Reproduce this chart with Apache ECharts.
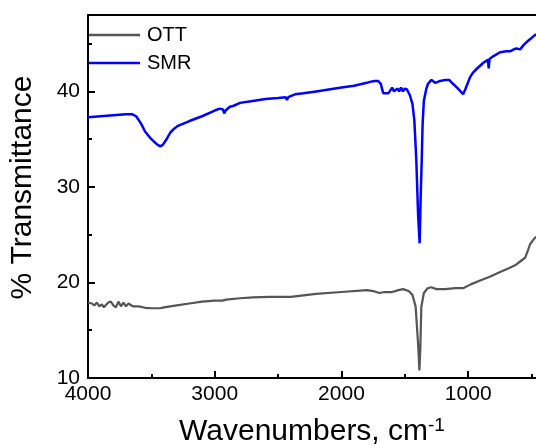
<!DOCTYPE html>
<html>
<head>
<meta charset="utf-8">
<script src="https://cdn.jsdelivr.net/npm/echarts@6/dist/echarts.min.js"></script>
<style>
html,body{margin:0;padding:0;background:#fff;}
#chart{width:536px;height:448px;}
</style>
</head>
<body>
<div id="chart"></div>
<script>
// Wavenumber (cm-1) and % transmittance
var smrX = [4000,3900,3800,3700,3650,3620,3580,3550,3500,3460,3430,3410,3380,3350,3320,3290,3200,3100,3000,2960,2935,2925,2915,2900,2880,2850,2800,2700,2600,2500,2440,2430,2420,2366,2300,2200,2100,2000,1900,1800,1775,1765,1740,1711,1690,1670,1656,1630,1616,1600,1585,1560,1545,1530,1515,1500,1483,1460,1440,1425,1410,1395,1383,1375,1366,1360,1350,1330,1317,1290,1277,1260,1240,1222,1180,1150,1120,1088,1060,1040,1020,985,960,930,880,845,838,832,800,748,700,669,640,620,590,560,527,500,465];
var smrY = [37.3,37.4,37.5,37.6,37.6,37.4,36.6,35.8,35.0,34.5,34.25,34.4,35.0,35.7,36.1,36.4,36.9,37.4,38.0,38.2,38.1,37.7,38.0,38.1,38.4,38.5,38.8,39.0,39.2,39.3,39.4,39.1,39.4,39.7,39.8,40.0,40.2,40.4,40.6,40.9,41.0,40.8,41.1,41.1,40.8,39.8,39.6,39.8,39.9,40.4,40.0,40.3,40.0,40.4,40.0,40.3,40.2,39.6,38.7,37.0,33.0,27.0,24.1,29.0,33.1,36.5,39.0,40.3,40.8,41.2,41.2,40.9,41.0,41.1,41.2,41.2,40.8,40.4,40.0,39.7,40.3,41.5,42.0,42.4,43.0,43.3,42.4,43.4,43.7,44.1,44.2,44.2,44.4,44.5,44.4,44.9,45.3,45.6,46.0];

var ottX = [4000,3985,3970,3950,3930,3910,3890,3875,3860,3840,3820,3800,3780,3760,3740,3720,3700,3680,3660,3640,3600,3550,3500,3432,3400,3300,3200,3100,3000,2940,2925,2910,2800,2700,2563,2430,2420,2400,2200,2000,1800,1750,1700,1660,1600,1550,1514,1470,1440,1415,1395,1385,1378,1370,1350,1320,1293,1250,1182,1100,1040,980,906,830,748,680,630,580,550,530,512,490,465];
var ottY = [17.9,17.7,17.8,17.6,17.9,17.5,17.7,17.4,17.6,17.9,18.0,17.6,17.4,18.0,17.5,17.9,17.5,17.8,17.6,17.5,17.5,17.35,17.3,17.3,17.4,17.6,17.8,18.0,18.1,18.1,17.9,18.2,18.35,18.45,18.5,18.5,18.4,18.5,18.8,19.0,19.2,19.1,18.9,19.0,19.0,19.2,19.3,19.1,18.7,17.5,13.5,10.8,13.0,17.4,18.9,19.4,19.5,19.3,19.3,19.4,19.4,19.8,20.2,20.6,21.1,21.5,21.8,22.3,22.6,23.3,24.0,24.4,24.8];

var seriesNames = ['OTT', 'SMR'];
var xMajorTicks = [1000, 2000, 3000, 4000];
var xMinorTicks = [500, 1500, 2500, 3500];
var yMajorTicks = [10, 20, 30, 40];
var xRange = [465, 4000];

function pairs(xs, ys) { return xs.map(function (x, i) { return [x, ys[i]]; }); }

var FONT = 'Liberation Sans';
var chart = echarts.init(document.getElementById('chart'), null, {renderer: 'canvas'});
chart.setOption({
  animation: false,
  backgroundColor: '#fff',
  grid: {left: 88, top: 15, bottom: 70, right: 0, outerBoundsMode: 'none', containLabel: false},
  legend: {
    orient: 'vertical', left: 89, top: 25, padding: 0, itemWidth: 51, itemHeight: 2.5, itemGap: 8,
    icon: 'rect',
    data: seriesNames,
    textStyle: {fontSize: 20, color: '#000', fontFamily: FONT, padding: [2, 0, 0, 2]}
  },
  xAxis: [{
    type: 'value', inverse: true, min: xRange[0], max: xRange[1], position: 'bottom',
    name: 'Wavenumbers, cm{sup|-1}', nameLocation: 'middle', nameGap: 38,
    nameTextStyle: {fontSize: 30, color: '#000', fontFamily: FONT,
      rich: {sup: {fontSize: 19, color: '#000', fontFamily: FONT, verticalAlign: 'top', padding: [0, 0, 12, 0]}}},
    axisLine: {onZero: false, lineStyle: {color: '#000', width: 2}},
    axisTick: {inside: true, length: 7, customValues: xMajorTicks, lineStyle: {color: '#000', width: 2}},
    axisLabel: {fontSize: 21, color: '#000', fontFamily: FONT, margin: 6, customValues: xMajorTicks,
      formatter: function (v) { return String(v); }},
    splitLine: {show: false}
  }, {
    type: 'value', inverse: true, min: xRange[0], max: xRange[1], position: 'bottom',
    axisLine: {show: false},
    axisTick: {inside: true, length: 4, customValues: xMinorTicks, lineStyle: {color: '#000', width: 2}},
    axisLabel: {show: false},
    splitLine: {show: false}
  }, {
    type: 'value', inverse: true, min: xRange[0], max: xRange[1], position: 'top',
    axisLine: {onZero: false, lineStyle: {color: '#000', width: 2}},
    axisTick: {show: false},
    axisLabel: {show: false},
    splitLine: {show: false}
  }],
  yAxis: [{
    type: 'value', min: 10, max: 48, interval: 10, position: 'left',
    name: '% Transmittance', nameLocation: 'middle', nameGap: 50, nameRotate: 90,
    nameTextStyle: {fontSize: 30, color: '#000', fontFamily: FONT, padding: [0, 0, 0, 18]},
    axisLine: {lineStyle: {color: '#000', width: 2}},
    axisTick: {inside: true, length: 7, lineStyle: {color: '#000', width: 2}},
    axisLabel: {fontSize: 21, color: '#000', fontFamily: FONT, margin: 8,
      formatter: function (v) { return yMajorTicks.indexOf(v) >= 0 ? String(v) : ''; }},
    splitLine: {show: false}
  }, {
    type: 'value', min: 10, max: 48, interval: 5, position: 'left',
    axisLine: {show: false},
    axisTick: {inside: true, length: 4, lineStyle: {color: '#000', width: 2}},
    axisLabel: {show: false},
    splitLine: {show: false}
  }],
  series: [{
    name: seriesNames[0], type: 'line', symbol: 'none', xAxisIndex: 0, yAxisIndex: 0,
    lineStyle: {color: '#555555', width: 2.2}, itemStyle: {color: '#555555'},
    data: pairs(ottX, ottY)
  }, {
    name: seriesNames[1], type: 'line', symbol: 'none', xAxisIndex: 0, yAxisIndex: 0,
    lineStyle: {color: '#0000ff', width: 2.5}, itemStyle: {color: '#0000ff'},
    data: pairs(smrX, smrY)
  }]
});
</script>
</body>
</html>
